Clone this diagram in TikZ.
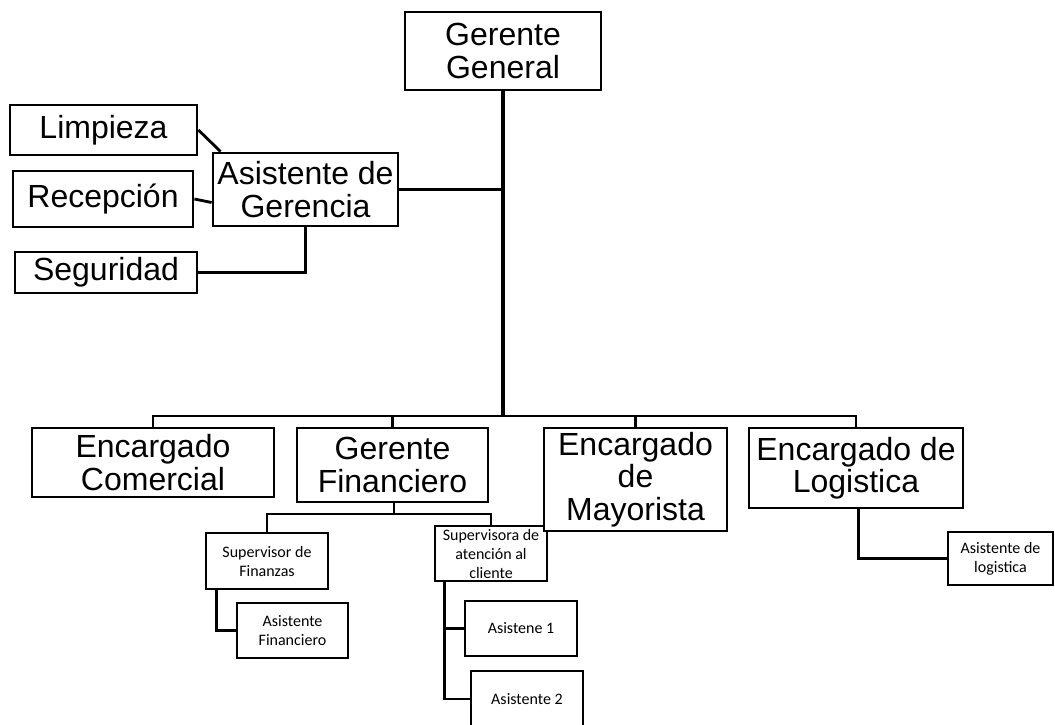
\documentclass[tikz,border=0pt]{standalone}
\usepackage{fontspec}
\newfontfamily\arialf{Liberation Sans}
\newfontfamily\calf{Carlito}
\usetikzlibrary{calc}
\begin{document}
\begin{tikzpicture}[x=1pt,y=-1pt,
  box/.style={draw, line width=2.8pt, fill=white, align=center, inner sep=0pt},
  big/.style={box, font=\arialf\fontsize{32}{32.5}\selectfont},
  small/.style={box, font=\calf\fontsize{16}{19}\selectfont},
  conn/.style={line width=2.8pt},
  mainline/.style={line width=3.8pt}]
\useasboundingbox (0,0) rectangle (1055,724);
\clip (0,0) rectangle (1055,724);
\fill[white] (0,0) rectangle (1055,724);

% top level
\node[big, minimum width=196pt, minimum height=78pt] (gg) at (503,51) {Gerente\\General};
\node[big, minimum width=185pt, minimum height=73pt] (ag) at (305.5,189.5) {Asistente de\\Gerencia};
\node[big, minimum width=187pt, minimum height=50pt] (lim) at (103.5,130) {Limpieza};
\node[big, minimum width=180pt, minimum height=56pt] (rec) at (103,199) {Recepción};
\node[big, minimum width=182pt, minimum height=41pt] (seg) at (106,272.5) {Seguridad};

% second level
\node[big, minimum width=242pt, minimum height=69pt] (ec) at (153,462.5) {Encargado\\Comercial};
\node[big, minimum width=191pt, minimum height=74pt] (gf) at (392.5,465) {Gerente\\Financiero};
\node[small, minimum width=112pt, minimum height=55pt] (sa) at (491,553.5) {Supervisora de\\atención al\\cliente};
\node[big, minimum width=183pt, minimum height=103pt] (em) at (635.5,479.5) {Encargado\\de\\Mayorista};
\node[big, minimum width=214pt, minimum height=80pt] (el) at (856,468) {Encargado de\\Logistica};

% third level
\node[small, minimum width=122pt, minimum height=56pt] (sf) at (267,561) {Supervisor de\\Finanzas};
\node[small, minimum width=111pt, minimum height=55pt] (af) at (292.5,630.5) {Asistente\\Financiero};
\node[small, minimum width=112pt, minimum height=55pt] (a1) at (521,628.5) {Asistene 1};
\node[small, minimum width=112pt, minimum height=56pt] (a2) at (527,699) {Asistente 2};
\node[small, minimum width=105pt, minimum height=53pt] (al) at (1000.5,558.5) {Asistente de\\logistica};

% bus coordinates
\coordinate (bus) at (503,416);
\coordinate (gfbus) at (394,514);

% connectors
\draw[mainline] (gg.south) -- (bus);
\draw[conn] (ag.east) -- (ag.east -| gg.south);
\draw[conn] (lim.east) -- ($(ag.north west)+(9,0)$);
\draw[conn] (rec.east) -- ($(ag.west)+(0,13)$);
\draw[conn] (seg.east) -| (ag.south);

\draw[conn] (ec.north) |- (bus) -| (el.north);
\draw[conn] (gf.north) -- (gf.north |- bus);
\draw[conn] (em.north) -- (em.north |- bus);

\draw[conn] (gf.south -| gfbus) -- (gfbus);
\draw[conn] (sf.north) |- (gfbus) -| (sa.north);

\draw[conn] ($(sf.south west)+(12,0)$) |- (af.west);
\draw[conn] ($(sa.south west)+(11,0)$) |- (a2.west);
\draw[conn] ($(sa.south west)+(11,0)$) |- (a1.west);
\draw[conn] ($(el.south west)+(111,0)$) |- (al.west);

% redraw boxes over connector ends
\node[small, minimum width=112pt, minimum height=55pt] at (sa) {Supervisora de\\atención al\\cliente};
\node[big, minimum width=183pt, minimum height=103pt] at (em) {Encargado\\de\\Mayorista};
\end{tikzpicture}
\end{document}
